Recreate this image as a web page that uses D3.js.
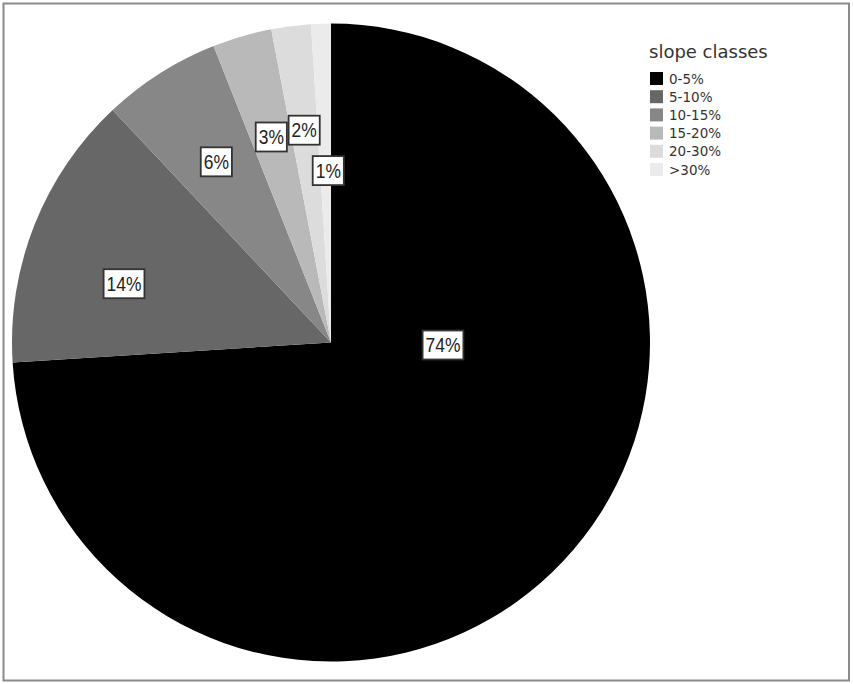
<!DOCTYPE html>
<html>
<head>
<meta charset="utf-8">
<script src="https://cdn.jsdelivr.net/npm/d3@7"></script>
<style>
  html, body { margin: 0; padding: 0; background: #fff; }
  svg { display: block; }
</style>
</head>
<body>
<svg id="chart" width="853" height="684"></svg>
<script>
// Slope classes and their share of the area (percent)
const categories = ["0-5%", "5-10%", "10-15%", "15-20%", "20-30%", ">30%"];
const shares = [74, 14, 6, 3, 2, 1];
const sliceColors = ["#000000", "#676767", "#878787", "#b9b9b9", "#dcdcdc", "#ebebeb"];
const legendTitle = "slope classes";

const W = 853, H = 684;
const svg = d3.select("#chart");

// outer frame
svg.append("rect")
  .attr("x", 3.5).attr("y", 3.5)
  .attr("width", W - 3 - 4.5).attr("height", H - 3 - 4)
  .attr("fill", "#fff")
  .attr("stroke", "#8a8a8a")
  .attr("stroke-width", 2);

// pie geometry
const cx = 331, cy = 342.5, R = 319;
const g = svg.append("g").attr("transform", `translate(${cx},${cy})`);

const pie = d3.pie().sort(null).value(d => d.value)
  .startAngle(0).endAngle(2 * Math.PI);
const data = categories.map((c, i) => ({ cat: c, value: shares[i], color: sliceColors[i] }));
const arcs = pie(data);

const arc = d3.arc().innerRadius(0).outerRadius(R);
g.selectAll("path.slice")
  .data(arcs)
  .join("path")
  .attr("class", "slice")
  .attr("d", arc)
  .attr("fill", d => d.data.color);

// value labels: placed on a ring inside the pie, with small shifts to keep them clear of each other
const labelArc = d3.arc().innerRadius(214).outerRadius(214);
const labelShift = [[-44, -144], [-8, 20], [0, 0], [0, 0], [0, 0], [4, 42]];
const total = d3.sum(shares);
const narrow = 0.87; // condensed label lettering

const labels = g.selectAll("g.lab")
  .data(arcs)
  .join("g")
  .attr("class", "lab")
  .attr("transform", (d, i) => {
    const [x, y] = labelArc.centroid(d);
    return `translate(${x + labelShift[i][0]},${y + labelShift[i][1]})`;
  });

labels.each(function(d) {
  const sel = d3.select(this);
  const txt = sel.append("text")
    .attr("text-anchor", "middle")
    .attr("dy", "0.36em")
    .attr("transform", `scale(${narrow},1)`)
    .attr("font-family", "'Liberation Sans', Arial, sans-serif")
    .attr("font-size", 20)
    .attr("fill", "#222")
    .text(Math.round(d.data.value / total * 100) + "%");
  const w = txt.node().getComputedTextLength() * narrow;
  sel.insert("rect", "text")
    .attr("x", -w / 2 - 3)
    .attr("y", -14.5)
    .attr("width", w + 6)
    .attr("height", 29)
    .attr("fill", "#fff")
    .attr("stroke", "#333")
    .attr("stroke-width", 1.8);
});

// legend
const legend = svg.append("g").attr("transform", "translate(650,0)");
legend.append("text")
  .attr("x", -1).attr("y", 58)
  .attr("font-family", "'DejaVu Sans', sans-serif")
  .attr("font-size", 18)
  .attr("fill", "#333")
  .text(legendTitle);

const rows = legend.selectAll("g.item")
  .data(data)
  .join("g")
  .attr("class", "item")
  .attr("transform", (d, i) => `translate(0,${72 + i * 18.2})`);
rows.append("rect")
  .attr("width", 13).attr("height", 13)
  .attr("fill", d => d.color);
rows.append("text")
  .attr("x", 19).attr("y", 11.5)
  .attr("font-family", "'DejaVu Sans', sans-serif")
  .attr("font-size", 13.5)
  .attr("fill", "#333")
  .text(d => d.cat);
</script>
</body>
</html>
